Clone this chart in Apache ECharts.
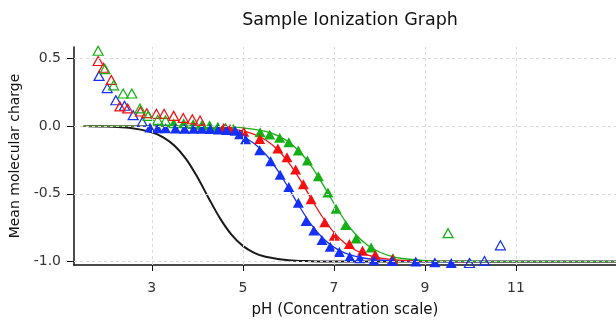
<!DOCTYPE html>
<html lang="en">
<head>
    <meta charset="utf-8">
    <title>Sample Ionization Graph</title>
    <script src="https://cdn.jsdelivr.net/npm/echarts@6/dist/echarts.min.js"></script>
</head>
<body style="margin:0;background:#fff;">
<div id="main" style="width:616px;height:323px;"></div>

<script type="text/javascript">

    // tick positions
    var xTicks = [3, 5, 7, 9, 11];
    var yTicks = [-1.0, -0.5, 0.0, 0.5];

    // fitted curves [pH, charge]
    var blackFit = [[1.6,-0.001],[2.0,-0.004],[2.5,-0.013],[3.0,-0.046],[3.25,-0.083],[3.5,-0.145],[3.75,-0.242],
        [4.0,-0.376],[4.25,-0.532],[4.5,-0.681],[4.75,-0.801],[5.0,-0.884],[5.25,-0.935],[5.5,-0.964],
        [6.0,-0.99],[6.5,-0.997],[7.0,-0.999],[8.0,-1.0],[10.0,-1.0],[13.2,-1.0]];
    var blueFit = [[1.5,0],[3.0,-0.001],[4.0,-0.008],[4.5,-0.026],[4.75,-0.045],[5.0,-0.077],[5.25,-0.129],
        [5.5,-0.208],[5.75,-0.319],[6.0,-0.454],[6.25,-0.597],[6.5,-0.725],[6.75,-0.824],[7.0,-0.893],
        [7.25,-0.937],[7.5,-0.963],[7.75,-0.979],[8.0,-0.988],[8.5,-0.996],[9.0,-0.999],[10.0,-1.0],[13.2,-1.0]];
    var redFit = [[1.5,0],[3.0,0],[4.0,-0.004],[4.5,-0.011],[5.0,-0.035],[5.25,-0.061],[5.5,-0.103],
        [5.75,-0.169],[6.0,-0.266],[6.25,-0.392],[6.5,-0.534],[6.75,-0.671],[7.0,-0.784],[7.25,-0.866],
        [7.5,-0.92],[7.75,-0.953],[8.0,-0.973],[8.5,-0.991],[9.0,-0.997],[9.5,-0.999],[10.5,-1.0],[13.2,-1.0]];
    var greenFit = [[1.5,0],[3.0,0],[4.0,-0.001],[4.5,-0.004],[5.0,-0.013],[5.5,-0.04],[5.75,-0.069],
        [6.0,-0.116],[6.25,-0.19],[6.5,-0.294],[6.75,-0.426],[7.0,-0.569],[7.25,-0.701],[7.5,-0.807],
        [7.75,-0.881],[8.0,-0.929],[8.25,-0.959],[8.5,-0.977],[9.0,-0.992],[9.5,-0.998],[10.0,-0.999],
        [11.0,-1.0],[13.2,-1.0]];

    // measured points used in the fit (filled)
    var blueFilled = [[2.96,-0.01],[3.13,-0.017],[3.30,-0.017],[3.52,-0.018],[3.72,-0.02],[3.92,-0.02],
        [4.10,-0.02],[4.28,-0.022],[4.46,-0.025],[4.64,-0.03],[4.83,-0.035],[4.93,-0.06],[5.06,-0.097],
        [5.37,-0.178],[5.61,-0.26],[5.82,-0.36],[6.01,-0.45],[6.22,-0.565],[6.39,-0.70],[6.56,-0.77],
        [6.74,-0.84],[6.92,-0.89],[7.12,-0.93],[7.35,-0.965],[7.57,-0.975],[7.88,-0.99],[8.28,-0.995],
        [8.80,-1.0],[9.22,-1.005],[9.58,-1.01]];
    var redFilled = [[4.58,-0.013],[4.72,-0.022],[5.02,-0.043],[5.37,-0.095],[5.77,-0.165],[5.97,-0.23],
        [6.16,-0.32],[6.33,-0.43],[6.50,-0.54],[6.80,-0.71],[7.01,-0.81],[7.34,-0.87],[7.63,-0.92],
        [7.91,-0.95],[8.29,-0.98]];
    var greenFilled = [[3.48,0.02],[3.70,0.02],[3.91,0.015],[4.10,0.01],[4.27,0.005],[4.45,-0.005],
        [4.62,-0.01],[4.79,-0.02],[5.38,-0.045],[5.59,-0.062],[5.81,-0.087],[6.01,-0.12],[6.22,-0.18],
        [6.42,-0.255],[6.66,-0.37],[6.87,-0.49],[7.05,-0.61],[7.26,-0.73],[7.49,-0.83],[7.82,-0.895],
        [8.30,-0.975]];

    // points left out of the fit (open)
    var blueOpen = [[1.84,0.37],[2.02,0.28],[2.21,0.19],[2.40,0.15],[2.59,0.08],[2.79,0.03],
        [9.98,-1.01],[10.31,-0.995],[10.66,-0.88]];
    var redOpen = [[1.82,0.48],[1.94,0.43],[2.11,0.34],[2.30,0.145],[2.47,0.13],[2.75,0.107],[2.89,0.095],
        [3.10,0.09],[3.27,0.09],[3.48,0.075],[3.69,0.06],[3.89,0.05],[4.06,0.04]];
    var greenOpen = [[1.82,0.555],[1.97,0.42],[2.16,0.30],[2.37,0.24],[2.56,0.24],[2.74,0.13],[2.92,0.075],
        [3.13,0.045],[3.30,0.04],[9.51,-0.79]];

    var BLUE = '#1530f5', RED = '#f41010', GREEN = '#16b016';
    var FONT = 'DejaVu Sans';
    var GRID = { color: '#d9d9d9', type: [3, 3], width: 1 };

    function fitLine(data, color, width) {
        return {
            type: 'line', data: data, showSymbol: false, smooth: 0.35,
            lineStyle: { color: color, width: width }, silent: true, z: 2
        };
    }
    function filled(data, color) {
        return {
            type: 'scatter', data: data, symbol: 'triangle', symbolSize: [11, 10],
            itemStyle: { color: color, opacity: 1 }, z: 3
        };
    }
    function open(data, color) {
        return {
            type: 'scatter', data: data, symbol: 'triangle', symbolSize: [10, 9],
            itemStyle: { color: 'rgba(0,0,0,0)', borderColor: color, borderWidth: 1.2, opacity: 1 }, z: 3
        };
    }

    // grid lines at the tick values
    var gridLines = xTicks.map(function (v) { return { xAxis: v }; })
        .concat(yTicks.map(function (v) { return { yAxis: v }; }));

    var myChart = echarts.init(document.getElementById('main'));

    myChart.setOption({
        animation: false,
        backgroundColor: '#fff',
        title: {
            text: 'Sample Ionization Graph',
            left: 350, top: 11, padding: 0, textAlign: 'center',
            textStyle: { fontFamily: FONT, fontSize: 17.5, fontWeight: 'normal', color: '#111' }
        },
        grid: { left: 74, right: -33, top: 47, bottom: 57 },
        xAxis: {
            type: 'value', min: 1.29, max: 13.2,
            name: 'pH (Concentration scale)', nameLocation: 'middle', nameGap: 38,
            nameTextStyle: { fontFamily: FONT, fontSize: 15, color: '#111' },
            axisLine: { onZero: false, lineStyle: { color: '#111', width: 1.5 } },
            axisTick: { show: true, length: 6, customValues: xTicks, lineStyle: { color: '#111', width: 1 } },
            axisLabel: { customValues: xTicks, margin: 16, fontFamily: FONT, fontSize: 14, color: '#333' },
            splitLine: { show: false }
        },
        yAxis: {
            type: 'value', min: -1.025, max: 0.583,
            name: 'Mean molecular charge', nameLocation: 'middle', nameGap: 46,
            nameTextStyle: { fontFamily: FONT, fontSize: 14, color: '#111' },
            axisLine: { show: true, lineStyle: { color: '#111', width: 1.5 } },
            axisTick: { show: true, length: 7, customValues: yTicks, lineStyle: { color: '#111', width: 1 } },
            axisLabel: {
                customValues: yTicks, margin: 13, fontFamily: FONT, fontSize: 14, color: '#333',
                formatter: function (v) { return v.toFixed(1); }
            },
            splitLine: { show: false }
        },
        series: [
            {
                type: 'scatter', data: [], z: 1, silent: true,
                markLine: { silent: true, symbol: 'none', label: { show: false }, lineStyle: GRID, data: gridLines }
            },
            fitLine(blackFit, '#1a1a1a', 2),
            fitLine(blueFit, BLUE, 1.3),
            fitLine(redFit, RED, 1.3),
            fitLine(greenFit, GREEN, 1.3),
            filled(greenFilled, GREEN),
            filled(redFilled, RED),
            filled(blueFilled, BLUE),
            open(blueOpen, BLUE),
            open(redOpen, RED),
            open(greenOpen, GREEN)
        ]
    });

</script>
</body>
</html>
